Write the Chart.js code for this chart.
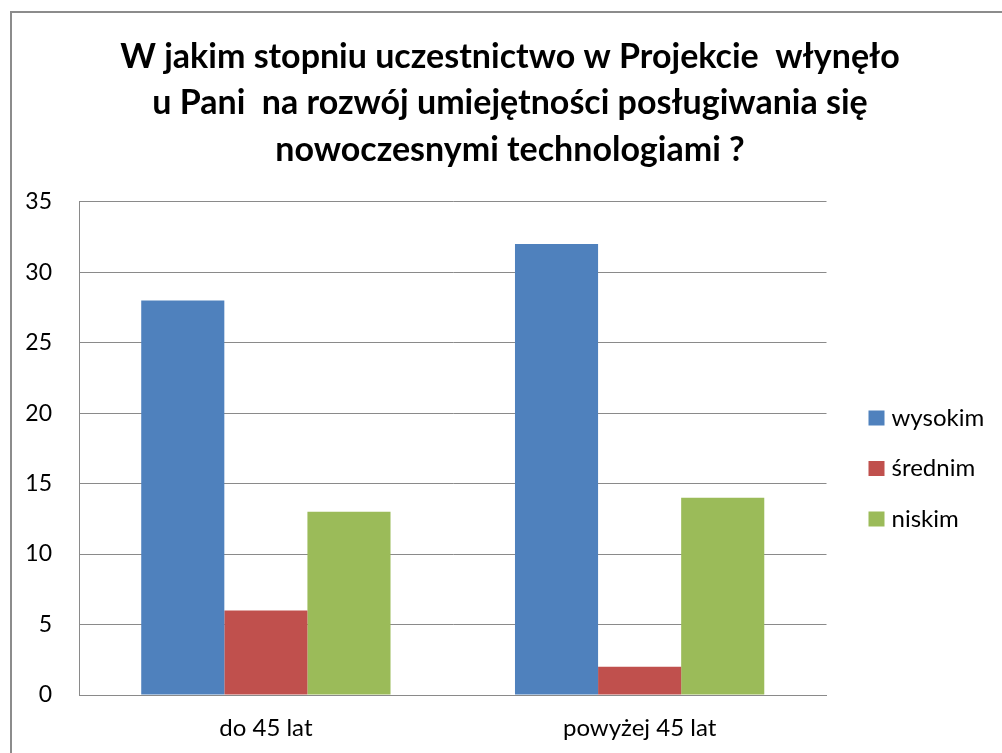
<!DOCTYPE html>
<html>
<head>
<meta charset="utf-8">
<script src="https://cdn.jsdelivr.net/npm/chart.js@4/dist/chart.umd.min.js"></script>
<style>
html,body{margin:0;padding:0;background:#fff;overflow:hidden;}
#wrap{width:1002px;height:753px;position:relative;}
</style>
</head>
<body>
<div id="wrap"><canvas id="c" width="1002" height="753"></canvas></div>
<script>
const categories = ["do 45 lat", "powyżej 45 lat"];
const seriesNames = ["wysokim", "średnim", "niskim"];
const wysokim = [28, 32];
const srednim = [6, 2];
const niskim = [13, 14];
const yTicks = [0, 5, 10, 15, 20, 25, 30, 35];
const titleLines = [
  "W jakim stopniu uczestnictwo w Projekcie  włynęło",
  "u Pani  na rozwój umiejętności posługiwania się",
  "nowoczesnymi technologiami ?"
];
const colors = ["#4F81BD", "#C0504D", "#9BBB59"];
const FONT = "Lato, 'Open Sans', sans-serif";

const frame = {
  id: 'frame',
  beforeDraw(chart) {
    const ctx = chart.ctx;
    ctx.save();
    ctx.fillStyle = '#fff';
    ctx.fillRect(0, 0, chart.width, chart.height);
    ctx.strokeStyle = '#8c8c8c';
    ctx.lineWidth = 2;
    ctx.strokeRect(11, 12, 1200, 1000);
    ctx.restore();
  }
};

const customLegend = {
  id: 'customLegend',
  afterDraw(chart) {
    const ctx = chart.ctx;
    ctx.save();
    ctx.font = "24px " + FONT;
    ctx.textBaseline = 'middle';
    ctx.textAlign = 'left';
    const x0 = chart.chartArea.right + 42;
    chart.data.datasets.forEach((ds, i) => {
      const cy = 418 + i * 50.5;
      ctx.fillStyle = ds.backgroundColor;
      ctx.fillRect(x0, cy - 7.5, 16, 15);
      ctx.fillStyle = '#000';
      ctx.fillText(ds.label, x0 + 23, cy);
    });
    ctx.restore();
  }
};

new Chart(document.getElementById('c'), {
  type: 'bar',
  data: {
    labels: categories,
    datasets: [
      { label: seriesNames[0], data: wysokim, backgroundColor: colors[0] },
      { label: seriesNames[1], data: srednim, backgroundColor: colors[1] },
      { label: seriesNames[2], data: niskim, backgroundColor: colors[2] }
    ]
  },
  options: {
    responsive: false,
    animation: false,
    devicePixelRatio: 1,
    layout: { padding: { left: 18, right: 0, top: 0, bottom: 0 } },
    datasets: { bar: { categoryPercentage: 0.667, barPercentage: 1.0, borderWidth: 0 } },
    plugins: {
      legend: { display: false },
      tooltip: { enabled: false },
      title: {
        display: true,
        text: titleLines,
        color: '#000',
        font: { family: FONT, size: 34, weight: 'bold', lineHeight: 1.36 },
        padding: { top: 34, bottom: 29 }
      }
    },
    scales: {
      x: {
        grid: { display: false, drawTicks: false },
        border: { display: true, color: '#8a8a8a', width: 1 },
        ticks: { color: '#000', font: { family: FONT, size: 24 }, padding: 19 },
        afterFit(scale) { scale.height = 58; }
      },
      y: {
        min: 0, max: 35,
        afterBuildTicks(scale) { scale.ticks = yTicks.map(v => ({ value: v })); },
        grid: { color: '#8a8a8a', drawTicks: false, lineWidth: 1 },
        border: { display: true, color: '#8a8a8a', width: 1 },
        ticks: { color: '#000', font: { family: FONT, size: 23 }, padding: 27 },
        afterFit(scale) { scale.width = 61; }
      },
      legendSpace: {
        type: 'linear',
        position: 'right',
        display: true,
        grid: { display: false, drawTicks: false },
        border: { display: false },
        ticks: { display: false },
        afterFit(scale) { scale.width = 175.5; }
      }
    }
  },
  plugins: [frame, customLegend]
});
</script>
</body>
</html>
